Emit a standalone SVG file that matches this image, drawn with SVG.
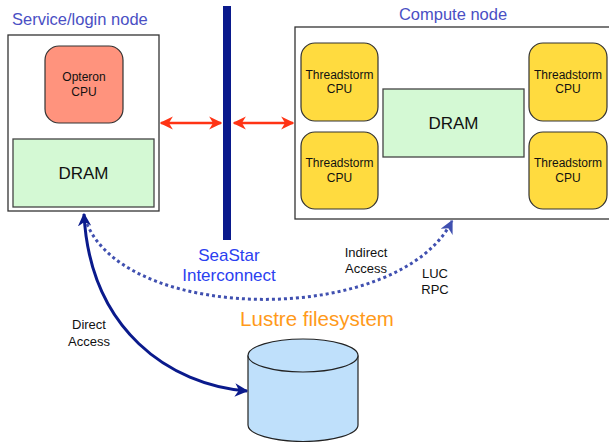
<svg xmlns="http://www.w3.org/2000/svg" width="609" height="442" viewBox="0 0 609 442">
<style>
text{font-family:"Liberation Sans",Arial,sans-serif;text-anchor:middle}
.box{fill:#fff;stroke:#333;stroke-width:1.3}
.cpu{fill:#FFDB3F;stroke:#333;stroke-width:1.2}
.dram{fill:#D4F9D4;stroke:#444;stroke-width:1.3}
.t11{font-size:12px;fill:#111}
.lbl{font-size:13px;fill:#111}
.title{font-size:16.5px;fill:#4A4FC4;text-anchor:start}
.big{font-size:17px;fill:#111}
</style>
<defs>
<marker id="red" viewBox="0 0 10 10" refX="9" refY="5" markerWidth="5.5" markerHeight="5.5" orient="auto-start-reverse" markerUnits="strokeWidth"><path d="M0,0L10,5L0,10L3,5z" fill="#FF3314"/></marker>
<marker id="navy" viewBox="0 0 10 10" refX="9" refY="5" markerWidth="4.5" markerHeight="4.5" orient="auto-start-reverse" markerUnits="strokeWidth"><path d="M0,0L10,5L0,10L3,5z" fill="#0A1A8C"/></marker>
<marker id="blue" viewBox="0 0 10 10" refX="9" refY="5" markerWidth="4.5" markerHeight="4.5" orient="auto" markerUnits="strokeWidth"><path d="M0,0L10,5L0,10L3,5z" fill="#4050B0"/></marker>
</defs>
<g id="service-node">
<text class="title" x="12" y="25">Service/login node</text>
<rect class="box" x="8" y="35" width="151" height="176"/>
<g id="opteron-cpu"><rect x="45" y="46" width="78" height="77" rx="14" fill="#FF937D" stroke="#333" stroke-width="1.2"/>
<text class="t11" x="84" y="81">Opteron</text><text class="t11" x="84" y="96">CPU</text></g>
<g id="service-dram"><rect class="dram" x="13" y="139" width="141" height="68"/>
<text class="big" x="83.5" y="179">DRAM</text></g>
</g>
<g id="seastar">
<rect x="223" y="6" width="8" height="234" fill="#0A1A8C"/>
<text x="229" y="261" style="font-size:17px;fill:#2A40F0">SeaStar</text>
<text x="229" y="281" style="font-size:17px;fill:#2A40F0">Interconnect</text>
</g>
<g id="compute-node">
<text class="title" x="453" y="20" style="text-anchor:middle">Compute node</text>
<rect class="box" x="295" y="27" width="320" height="192"/>
<g id="ts1"><rect class="cpu" x="301" y="43" width="77" height="78" rx="14"/><text class="t11" x="339.5" y="79">Threadstorm</text><text class="t11" x="339.5" y="93">CPU</text></g>
<g id="ts2"><rect class="cpu" x="301" y="132" width="77" height="77" rx="14"/><text class="t11" x="339.5" y="167">Threadstorm</text><text class="t11" x="339.5" y="182">CPU</text></g>
<g id="ts3"><rect class="cpu" x="529" y="43" width="78" height="78" rx="14"/><text class="t11" x="568" y="79">Threadstorm</text><text class="t11" x="568" y="93">CPU</text></g>
<g id="ts4"><rect class="cpu" x="529" y="132" width="78" height="77" rx="14"/><text class="t11" x="568" y="167">Threadstorm</text><text class="t11" x="568" y="182">CPU</text></g>
<g id="compute-dram"><rect class="dram" x="383" y="89" width="141" height="68"/>
<text class="big" x="453.5" y="129">DRAM</text></g>
</g>
<g id="lustre">
<text x="317" y="326" style="font-size:20.5px;fill:#FF9A1A">Lustre filesystem</text>
<path d="M248,355.5 V425 A55,16.5 0 0 0 358,425 V355.5" fill="#BFE0FB" stroke="#222" stroke-width="1.2"/>
<ellipse cx="303" cy="355.5" rx="55" ry="16.5" fill="#BFE0FB" stroke="#222" stroke-width="1.2"/>
</g>
<g id="connectors">
<line x1="161" y1="123" x2="221" y2="123" stroke="#FF3314" stroke-width="2.4" marker-start="url(#red)" marker-end="url(#red)"/>
<line x1="234" y1="123" x2="293" y2="123" stroke="#FF3314" stroke-width="2.4" marker-start="url(#red)" marker-end="url(#red)"/>
<path d="M84,214 C90,330 170,385 247,391" fill="none" stroke="#0A1A8C" stroke-width="3" marker-start="url(#navy)" marker-end="url(#navy)"/>
<path d="M87,224 C130,325 400,325 452,221" fill="none" stroke="#4050B0" stroke-width="3" stroke-dasharray="3,3" marker-end="url(#blue)"/>
</g>
<g id="labels">
<text class="lbl" x="366" y="257">Indirect</text>
<text class="lbl" x="366" y="273">Access</text>
<text class="lbl" x="435" y="278">LUC</text>
<text class="lbl" x="435" y="294">RPC</text>
<text class="lbl" x="89" y="329">Direct</text>
<text class="lbl" x="89" y="346">Access</text>
</g>
</svg>
